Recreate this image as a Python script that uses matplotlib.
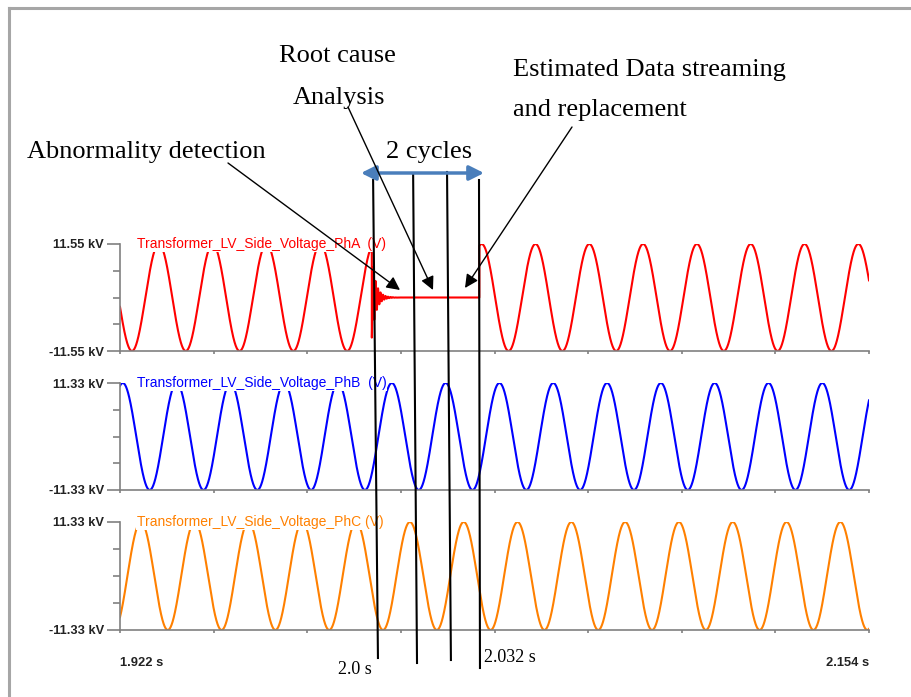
import numpy as np
import matplotlib
matplotlib.use("Agg")
import matplotlib.pyplot as plt
from matplotlib.lines import Line2D
from matplotlib.transforms import blended_transform_factory

# values
t_start, t_end = 1.922, 2.154
freq = 60.0
phase_names = ["PhA", "PhB", "PhC"]
amplitudes_kv = [11.55, 11.33, 11.33]
trough_times = [1.9257, 1.9312, 1.9368]   # first minimum of each phase
colors = ["#ff0000", "#0000ff", "#ff8000"]
labels = ["Transformer_LV_Side_Voltage_PhA  (V)",
          "Transformer_LV_Side_Voltage_PhB  (V)",
          "Transformer_LV_Side_Voltage_PhC (V)"]

t_fault = 2.0          # abnormality detected on phase A
t_restore = 2.0333     # estimated data streamed back after 2 cycles
ring_amp, ring_freq, ring_tau = 0.75, 1300.0, 0.0013

# vertical marker lines (time at top / bottom of the drawn line)
marker_t_top = [2.0004, 2.0128, 2.0233, 2.0332]
marker_t_bot = [2.0019, 2.0140, 2.0245, 2.0335]
marker_y_top = [180, 175, 172, 180]
marker_y_bot = [658, 663, 660, 668]

W, H = 912, 697
fig = plt.figure(figsize=(W / 100, H / 100), dpi=100)

panel_px = [(244, 351), (383, 490), (522, 630)]
ax_left, ax_width = 120, 749
gray = "#808080"

t = np.linspace(t_start, t_end, 30000)
axes = []
for i in range(3):
    top, bot = panel_px[i]
    ax = fig.add_axes([ax_left / W, 1 - bot / H, ax_width / W, (bot - top) / H])
    A = amplitudes_kv[i]
    v = -A * np.cos(2 * np.pi * freq * (t - trough_times[i]))
    if i == 0:
        gap = (t >= t_fault) & (t < t_restore)
        tau = t[gap] - t_fault
        v[gap] = -A * ring_amp * np.cos(2 * np.pi * ring_freq * tau) * np.exp(-tau / ring_tau)
    ax.plot(t, v, color=colors[i], lw=1.5)
    ax.set_xlim(t_start, t_end)
    ax.set_ylim(-A, A)
    for s in ["top", "right"]:
        ax.spines[s].set_visible(False)
    for s in ["left", "bottom"]:
        ax.spines[s].set_color(gray)
        ax.spines[s].set_linewidth(1.2)
    ax.set_yticks([-A, A])
    ax.set_yticklabels([f"-{A:.2f} kV", f"{A:.2f} kV"])
    ax.set_yticks([-A / 2, 0, A / 2], minor=True)
    ax.tick_params(axis="y", which="major", length=9.5, width=1.2, color=gray,
                   pad=2, labelsize=9.3, labelcolor="#222222")
    ax.tick_params(axis="y", which="minor", length=5, width=1.2, color=gray)
    for lab in ax.get_yticklabels():
        lab.set_fontweight("bold")
        lab.set_family("Liberation Sans")
    ax.set_xticks(np.linspace(t_start, t_end, 9))
    ax.set_xticklabels([])
    ax.tick_params(axis="x", length=2.5, width=1.2, color=gray)
    ax.patch.set_alpha(0)
    ax.text((137 - ax_left) / ax_width, 1.0, labels[i], transform=ax.transAxes,
            color=colors[i], fontsize=10, family="Liberation Sans", va="center",
            ha="left", bbox=dict(facecolor="white", edgecolor="none", pad=0.5),
            zorder=5)
    axes.append(ax)

axC = axes[2]
xt = blended_transform_factory(axC.transData, axC.transAxes)
axC.text(t_start, -0.31, "1.922 s", transform=xt, ha="left", va="center",
         fontsize=9.3, fontweight="bold", family="Liberation Sans", color="#222222")
axC.text(t_end, -0.31, "2.154 s", transform=xt, ha="right", va="center",
         fontsize=9.3, fontweight="bold", family="Liberation Sans", color="#222222")

# overlay in pixel coordinates for the annotations
ov = fig.add_axes([0, 0, 1, 1], zorder=10)
ov.set_xlim(0, W)
ov.set_ylim(H, 0)
ov.axis("off")

# frame
fig.add_artist(Line2D([9 / W, 1], [1 - 7.5 / H, 1 - 7.5 / H], color="#a6a6a6", lw=2.2))
fig.add_artist(Line2D([9 / W, 9 / W], [0, 1 - 7.5 / H], color="#a6a6a6", lw=2.2))

mt = blended_transform_factory(axC.transData, ov.transData)
for tt, tb, yt, yb in zip(marker_t_top, marker_t_bot, marker_y_top, marker_y_bot):
    ov.plot([tt, tb], [yt, yb], color="black", lw=1.5, transform=mt, clip_on=False)

serif = "Liberation Serif"
ov.text(279, 62, "Root cause", fontsize=19, family=serif, va="baseline")
ov.text(293, 104, "Analysis", fontsize=19, family=serif, va="baseline")
ov.text(513, 76, "Estimated Data streaming", fontsize=19, family=serif, va="baseline")
ov.text(513, 116, "and replacement", fontsize=19, family=serif, va="baseline")
ov.text(27, 158, "Abnormality detection", fontsize=19, family=serif, va="baseline")
ov.text(429, 158, "2 cycles", fontsize=19, family=serif, va="baseline", ha="center")
ov.text(338, 670, "2.0 s", fontsize=13, family=serif, va="center")
ov.text(484, 658, "2.032 s", fontsize=13, family=serif, va="center")

ov.annotate("", xy=(484, 173), xytext=(361, 173),
            arrowprops=dict(arrowstyle="<|-|>", color="#4a7ebb", lw=2.5,
                            mutation_scale=22, shrinkA=0, shrinkB=0))
for tail, tip in [((228, 163), (400, 290)), ((348, 107), (433, 290)),
                  ((572, 127), (465, 288))]:
    ov.annotate("", xy=tip, xytext=tail,
                arrowprops=dict(arrowstyle="-|>", color="black", lw=1.0,
                                mutation_scale=20, shrinkA=0, shrinkB=0))

fig.savefig("out.png", dpi=100, facecolor="white")
